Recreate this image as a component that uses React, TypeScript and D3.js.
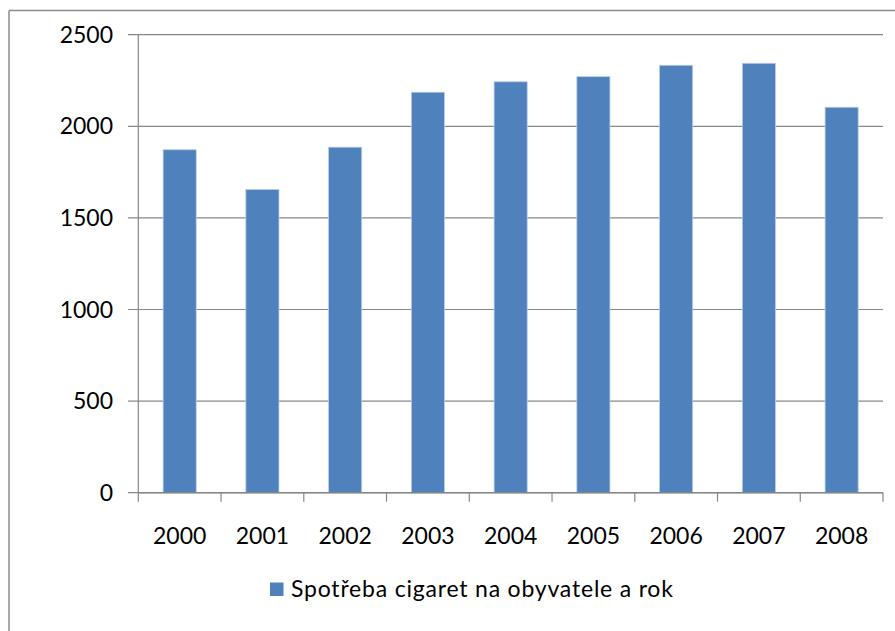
import React from "react";
import * as d3 from "d3";

const years = ["2000", "2001", "2002", "2003", "2004", "2005", "2006", "2007", "2008"];
const values = [1872, 1655, 1886, 2186, 2243, 2271, 2333, 2344, 2104];
const yTicks = [0, 500, 1000, 1500, 2000, 2500];
const seriesName = "Spotřeba cigaret na obyvatele a rok";

const W = 895;
const H = 631;
const left = 138.3;
const right = 883;
const top = 34.7;
const bottom = 492.7;
const font = "Lato, 'Open Sans', sans-serif";
const gridColor = "#888888";
const barColor = "#4F81BD";

export default function App() {
  const xCat = d3.scaleBand<string>().domain(years).range([left, right]).padding(0);
  const y = d3.scaleLinear().domain([0, 2500]).range([bottom, top]);
  const bw = xCat.bandwidth() / 2.5;

  return (
    <div style={{ position: "fixed", left: 0, top: 0, width: W, height: H, background: "#fff" }}>
      <svg width={W} height={H} style={{ display: "block" }}>
        <rect x={0} y={0} width={W} height={H} fill="#fff" />
        {/* outer border */}
        <line x1={9} y1={10.5} x2={W + 2} y2={10.5} stroke="#8c8c8c" strokeWidth={1.5} />
        <line x1={9} y1={10.5} x2={9} y2={H + 2} stroke="#8c8c8c" strokeWidth={1.5} />

        {/* gridlines and y ticks */}
        {yTicks.map((t) => (
          <g key={t}>
            <line x1={128} x2={right} y1={y(t)} y2={y(t)} stroke={gridColor} strokeWidth={1.2} />
            <text
              x={113}
              y={y(t)}
              dy="0.35em"
              textAnchor="end"
              fontFamily={font}
              fontSize={23}
              fill="#000"
            >
              {t}
            </text>
          </g>
        ))}
        {/* y axis */}
        <line x1={left} x2={left} y1={top} y2={bottom} stroke={gridColor} strokeWidth={1.2} />

        {/* bars */}
        {years.map((yr, i) => {
          const cx = (xCat(yr) as number) + xCat.bandwidth() / 2;
          return (
            <rect
              key={yr}
              x={cx - bw / 2}
              y={y(values[i])}
              width={bw}
              height={bottom - y(values[i])}
              fill={barColor}
              stroke="#b9cde5"
              strokeWidth={0.8}
            />
          );
        })}

        {/* x axis */}
        <line x1={left} x2={right} y1={bottom} y2={bottom} stroke={gridColor} strokeWidth={1.4} />
        {years.concat(["end"]).map((yr, i) => {
          const tx = left + i * xCat.bandwidth();
          return <line key={yr} x1={tx} x2={tx} y1={bottom} y2={bottom + 9} stroke={gridColor} strokeWidth={1.2} />;
        })}
        {years.map((yr) => (
          <text
            key={yr}
            x={(xCat(yr) as number) + xCat.bandwidth() / 2}
            y={544}
            textAnchor="middle"
            fontFamily={font}
            fontSize={23}
            fill="#000"
          >
            {yr}
          </text>
        ))}

        {/* legend */}
        <rect x={270} y={582.5} width={13.5} height={13.5} fill={barColor} />
        <text x={291} y={597} fontFamily={font} fontSize={23} letterSpacing={0.8} fill="#000">
          {seriesName}
        </text>
      </svg>
    </div>
  );
}
